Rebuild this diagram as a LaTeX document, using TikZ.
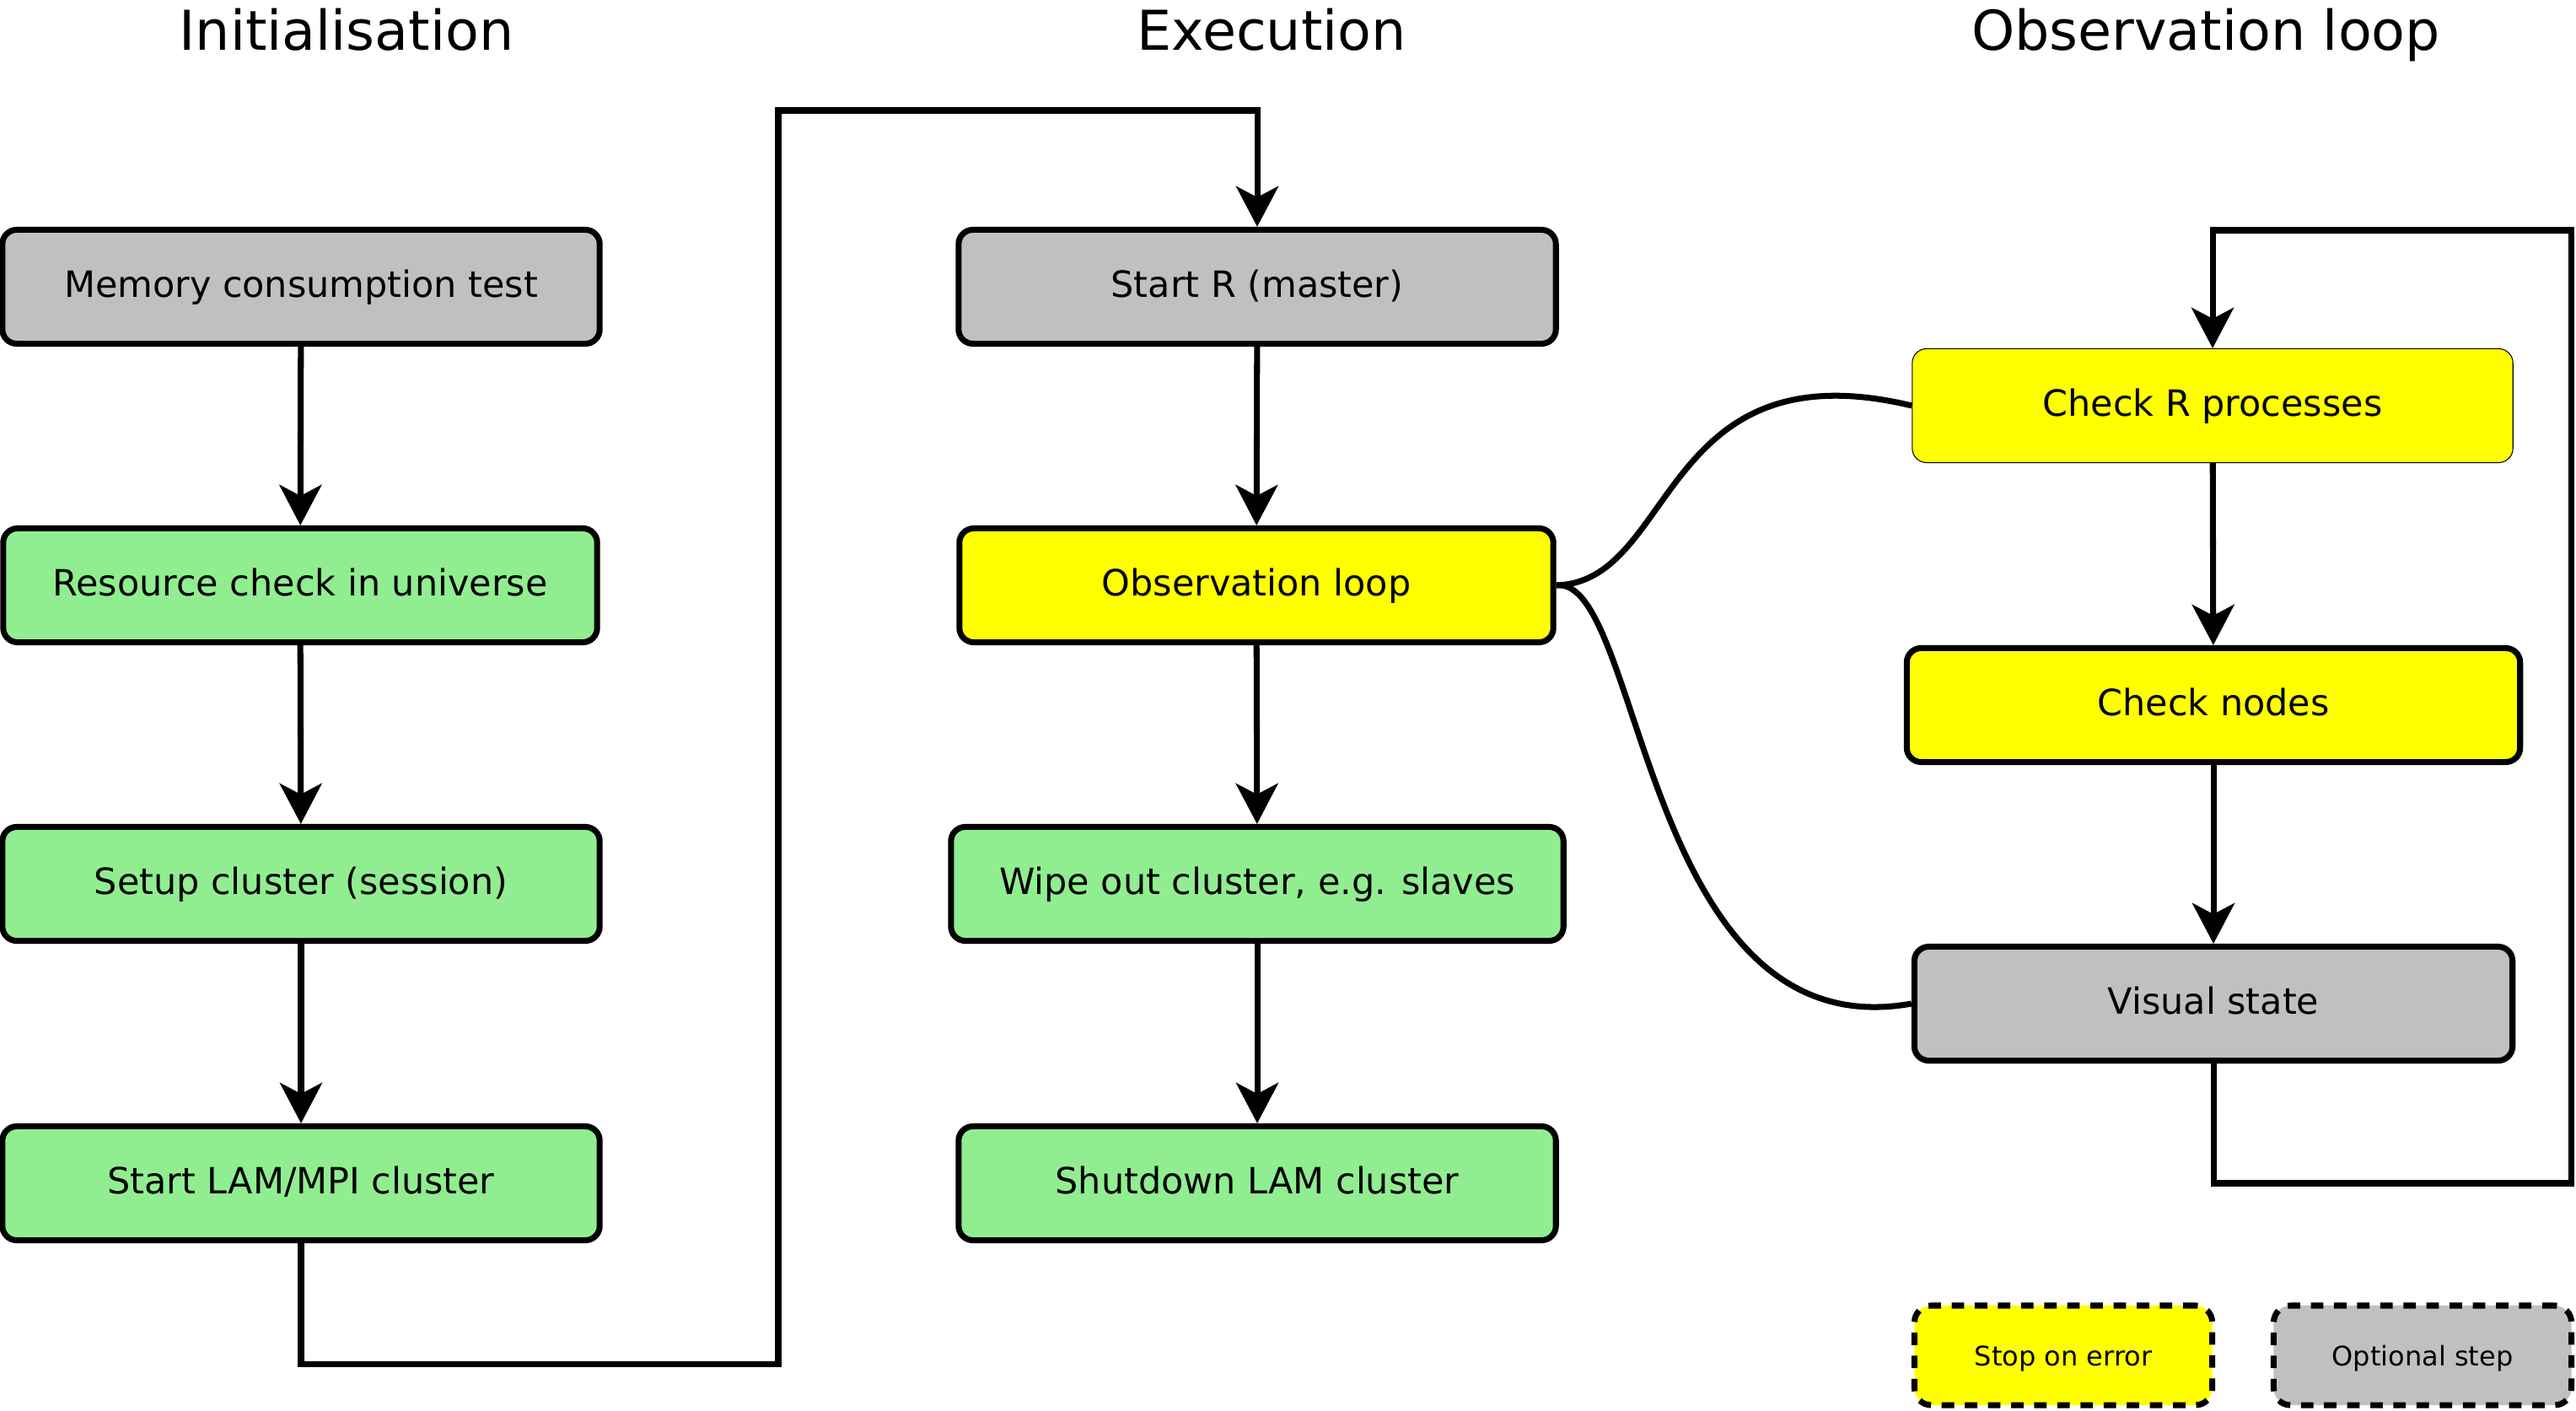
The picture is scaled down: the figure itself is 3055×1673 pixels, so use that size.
\documentclass[tikz,border=0pt]{standalone}
\usepackage{fontspec}
\setmainfont{DejaVu Sans}
\usetikzlibrary{arrows.meta}
\definecolor{optgrey}{HTML}{C0C0C0}
\definecolor{okgreen}{HTML}{90EE90}
\definecolor{stopyellow}{HTML}{FFFF00}

\begin{document}
\begin{tikzpicture}[x=0.01cm,y=-0.01cm,
  stage/.style={draw,line width=2pt,rounded corners=0.17cm,minimum width=7.08cm,minimum height=1.35cm,
    inner sep=0pt,font=\fontsize{12.2}{14}\selectfont,text height=0.73em,text depth=0pt},
  keybox/.style={draw,line width=2pt,dash pattern=on 4.2pt off 3.6pt,rounded corners=0.2cm,
    minimum width=3.53cm,minimum height=1.18cm,inner sep=0pt,font=\fontsize{9.1}{11}\selectfont,
    text height=0.73em,text depth=0pt},
  heading/.style={anchor=base,inner sep=0pt,font=\fontsize{18.5}{22}\selectfont},
  flow/.style={line width=2pt,-{Stealth[length=0.48cm,width=0.5cm,inset=0.13cm]}},
  link/.style={line width=2pt}]
  \useasboundingbox (0,0) rectangle (3055,1673);

  % column titles
  \node[heading] (tinit) at (411,60) {Initialisation};
  \node[heading] (texec) at (1508,60) {Execution};
  \node[heading] (tobs) at (2616,60) {Observation loop};

  % initialisation
  \node[stage,fill=optgrey] (mem) at (357,340) {Memory consumption test};
  \node[stage,fill=okgreen,minimum width=7.04cm] (res) at (356,694) {Resource check in universe};
  \node[stage,fill=okgreen] (setup) at (357,1048) {Setup cluster (session)};
  \node[stage,fill=okgreen] (lam) at (357,1403) {Start LAM/MPI cluster};

  % execution
  \node[stage,fill=optgrey] (startr) at (1491,340) {Start R (master)};
  \node[stage,fill=stopyellow,minimum width=7.04cm] (obs) at (1490,694) {Observation loop};
  \node[stage,fill=okgreen,minimum width=7.26cm] (wipe) at (1491,1048) {Wipe out cluster, e.g. slaves};
  \node[stage,fill=okgreen] (shut) at (1491,1403) {Shutdown LAM cluster};

  % observation loop
  \node[stage,fill=stopyellow,line width=0.3pt,minimum width=7.12cm] (chkr) at (2624,481) {Check R processes};
  \node[stage,fill=stopyellow,minimum width=7.27cm] (chkn) at (2625,836) {Check nodes};
  \node[stage,fill=optgrey,minimum width=7.09cm] (vis) at (2625,1190) {Visual state};

  % legend
  \node[keybox,fill=stopyellow] (kstop) at (2447,1607) {Stop on error};
  \node[keybox,fill=optgrey] (kopt) at (2873,1607) {Optional step};

  \coordinate (lbot) at (923,1617);
  \coordinate (ltop) at (923,131);
  \coordinate (rbot) at (3049,1403);
  \coordinate (rtop) at (3049,273);

  \draw[flow] (mem) -- (res);
  \draw[flow] (res) -- (setup);
  \draw[flow] (setup) -- (lam);
  \draw[flow] (lam.south) |- (lbot) -- (ltop) -| (startr.north);

  \draw[flow] (startr) -- (obs);
  \draw[flow] (obs) -- (wipe);
  \draw[flow] (wipe) -- (shut);

  \draw[link] (obs.east) .. controls (1988,690) and (1967,409) .. (chkr.west);
  \draw[link] (obs.east) .. controls (1948,682) and (1948,1247) .. (vis.west);

  \draw[flow] (chkr) -- (chkn);
  \draw[flow] (chkn) -- (vis);
  \draw[flow] (vis.south) |- (rbot) -- (rtop) -| (chkr.north);
\end{tikzpicture}
\end{document}
